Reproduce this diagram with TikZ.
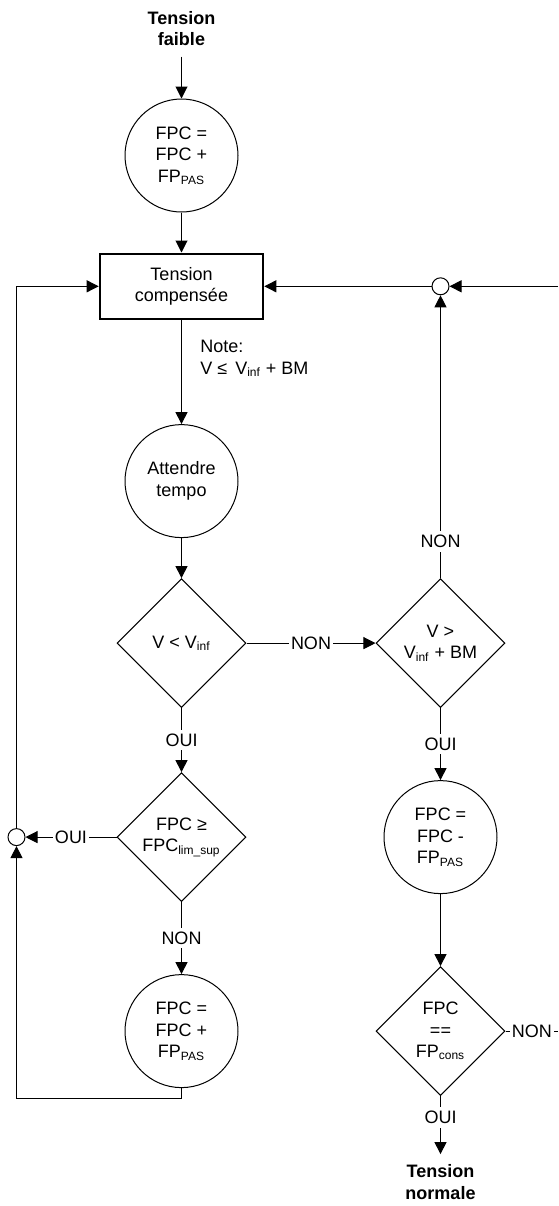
\documentclass[tikz,border=0pt]{standalone}
\usepackage{fontspec}
\setmainfont{Liberation Sans}
\usetikzlibrary{arrows.meta,positioning,shapes.geometric}
\definecolor{Ink}{HTML}{000000}
\definecolor{Paper}{HTML}{FFFFFF}
\newcommand{\diagfont}{\fontsize{9}{10.8}\selectfont}
\tikzset{
  roundbox/.style={draw=Ink,fill=Paper,circle,minimum size=56.5pt,inner sep=0pt,align=center,font=\diagfont,text=Ink,line width=0.5pt},
  mainbox/.style={draw=Ink,fill=Paper,rectangle,minimum width=81.5pt,minimum height=32.5pt,align=center,font=\diagfont,text=Ink,line width=1.3pt},
  testbox/.style={draw=Ink,fill=Paper,diamond,aspect=1,minimum width=64.5pt,minimum height=64.5pt,inner sep=0pt,align=center,font=\diagfont,text=Ink,line width=0.5pt},
  dotbox/.style={draw=Ink,fill=Paper,circle,minimum size=8.5pt,inner sep=0pt,line width=0.5pt},
  termtext/.style={align=center,font=\diagfont\bfseries,text=Ink,inner sep=5pt},
  notetext/.style={align=left,font=\diagfont,text=Ink,inner sep=0pt},
  tag/.style={fill=Paper,font=\diagfont,text=Ink,inner xsep=1pt,inner ysep=2pt},
  line/.style={-{Triangle[length=6pt,width=6pt]},draw=Ink,line width=0.5pt},
  plainline/.style={draw=Ink,line width=0.5pt}
}
\begin{document}
\begin{tikzpicture}[x=0.5pt,y=-0.5pt,node distance=20pt and 64.5pt]
  \useasboundingbox (0,0) rectangle (558,1206);
  \node[roundbox] (a) at (181.5,155.5) {FPC =\\FPC +\\FP\textsubscript{PAS}};
  \node[termtext,above=21pt of a] (s) {Tension\\faible};
  \node[mainbox,below=of a] (b) {Tension\\compensée};
  \node[notetext,anchor=north west] (t) at ([xshift=9.25pt,yshift=-10pt]b.south) {Note:\\V ≤ \,V\textsubscript{inf} + BM};
  \node[roundbox,below=52pt of b] (c) {Attendre\\tempo};
  \node[testbox,below=of c] (d) {V < V\textsubscript{inf}};
  \node[testbox,below=32pt of d] (e) {FPC ≥\\FPC\textsubscript{lim\_sup}};
  \node[roundbox,below=36pt of e] (f) {FPC =\\FPC +\\FP\textsubscript{PAS}};
  \node[testbox,right=of d] (g) {V >\\V\textsubscript{inf} + BM};
  \node[roundbox,below=36pt of g] (h) {FPC =\\FPC -\\FP\textsubscript{PAS}};
  \node[testbox,below=36pt of h] (i) {FPC\\==\\FP\textsubscript{cons}};
  \node[termtext,below=29pt of i] (n) {Tension\\normale};
  \node[dotbox] (k) at (g |- b) {};
  \node[dotbox,left=45.5pt of e] (m) {};
  \coordinate (p) at ([yshift=-5pt]f.south);
  \coordinate (q) at (b -| 558,0);
  \coordinate (r) at (i -| 558,0);
  \draw[line] (s) -- (a);
  \draw[line] (a) -- (b);
  \draw[line] (b) -- (c);
  \draw[line] (c) -- (d);
  \draw[line] (d) -- node[tag]{OUI} (e);
  \draw[line] (e) -- node[tag]{NON} (f);
  \draw[line] (e) -- node[tag]{OUI} (m);
  \draw[line] (f) -- (p) -| (m);
  \draw[line] (m) |- (b);
  \draw[line] (d) -- node[tag]{NON} (g);
  \draw[line] (g) -- node[tag,pos=0.13]{NON} (k);
  \draw[line] (k) -- (b);
  \draw[line] (q) -- (k);
  \draw[line] (g) -- node[tag]{OUI} (h);
  \draw[line] (h) -- (i);
  \draw[plainline] (i) -- node[tag]{NON} (r);
  \draw[line] (i) -- node[tag,pos=0.37]{OUI} (n);
\end{tikzpicture}
\end{document}
